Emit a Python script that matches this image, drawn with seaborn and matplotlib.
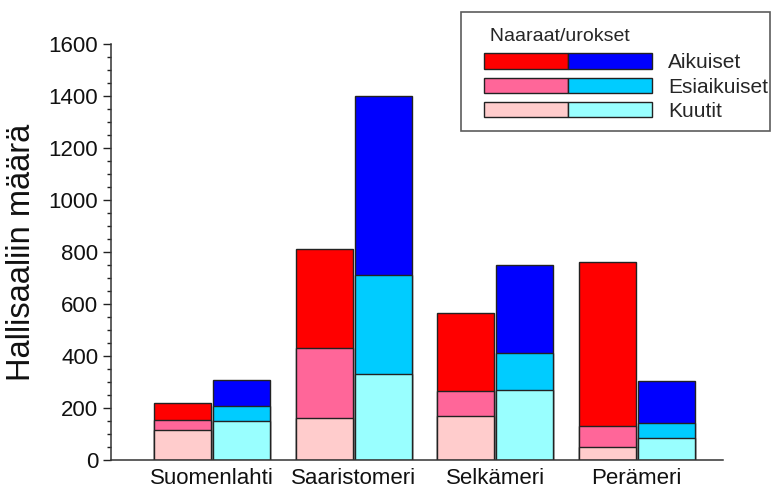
import numpy as np
import pandas as pd
import matplotlib
matplotlib.use("Agg")
import matplotlib.pyplot as plt
import seaborn as sns
from matplotlib.patches import Rectangle
from matplotlib.legend_handler import HandlerBase
from matplotlib.offsetbox import DrawingArea
from matplotlib.ticker import MultipleLocator

# ---- data ----
regions = ["Suomenlahti", "Saaristomeri", "Selkämeri", "Perämeri"]
female_pups = [116, 162, 170, 51]
female_juv = [38, 270, 97, 81]
female_adults = [64, 381, 298, 631]
male_pups = [150, 331, 270, 86]
male_juv = [58, 379, 141, 58]
male_adults = [98, 692, 338, 161]

sexes = ["Naaraat", "Urokset"]
stage_labels = ["Aikuiset", "Esiaikuiset", "Kuutit"]
female_colors = ["#FF0000", "#FF6699", "#FFCCCC"]
male_colors = ["#0000FF", "#00CCFF", "#99FFFF"]
legend_title = "Naaraat/urokset"
y_label = "Hallisaaliin määrä"

# ---- build long-form cumulative table ----
rows = []
for i, r in enumerate(regions):
    fp, fj, fa = female_pups[i], female_juv[i], female_adults[i]
    mp, mj, ma = male_pups[i], male_juv[i], male_adults[i]
    rows.append(dict(region=r, sex="Naaraat", pups=fp, juv=fp + fj, total=fp + fj + fa))
    rows.append(dict(region=r, sex="Urokset", pups=mp, juv=mp + mj, total=mp + mj + ma))
df = pd.DataFrame(rows)

sns.set_style("white")
plt.rcParams["font.family"] = ["Liberation Sans", "DejaVu Sans"]

fig = plt.figure(figsize=(7.72, 4.90), dpi=100)
ax = fig.add_axes([0.1434, 0.0612, 0.9365 - 0.1434, 0.910 - 0.0612])

edge = "#222222"
for col, k in (("total", 0), ("juv", 1), ("pups", 2)):
    sns.barplot(data=df, x="region", y=col, hue="sex", order=regions,
                hue_order=sexes, palette=[female_colors[k], male_colors[k]],
                width=0.835, gap=0.035, edgecolor=edge, linewidth=1.0,
                errorbar=None, legend=False, ax=ax, saturation=1)

ax.set_ylim(0, 1600)
ax.set_xlim(-0.716, 3.61)
ax.yaxis.set_major_locator(MultipleLocator(200))
ax.yaxis.set_minor_locator(MultipleLocator(50))
ax.tick_params(axis="y", which="major", direction="out", length=6, width=1.0,
               labelsize=16, pad=3, colors="#222222", left=True)
ax.tick_params(axis="y", which="minor", direction="out", length=3, width=1.0,
               colors="#222222", left=True)
ax.tick_params(axis="x", length=0, labelsize=16, pad=6, colors="#111111")
for lab in ax.get_yticklabels():
    lab.set_color("#111111")
ax.set_xlabel("")
ax.set_ylabel(y_label, fontsize=23.5, color="#111111")
ax.yaxis.set_label_coords(-0.120, 0.5)
for s in ("top", "right"):
    ax.spines[s].set_visible(False)
for s in ("left", "bottom"):
    ax.spines[s].set_color("#333333")
    ax.spines[s].set_linewidth(1.1)


class TwoPatch(HandlerBase):
    def __init__(self, lead, **kw):
        super().__init__(**kw)
        self.lead = lead

    def create_artists(self, legend, orig_handle, xdescent, ydescent, width,
                       height, fontsize, trans):
        c1, c2 = orig_handle
        w = (width - self.lead) / 2
        x0 = self.lead - xdescent
        r1 = Rectangle((x0, -ydescent), w, height, facecolor=c1,
                       edgecolor=edge, linewidth=1.0, transform=trans)
        r2 = Rectangle((x0 + w, -ydescent), w, height, facecolor=c2,
                       edgecolor=edge, linewidth=1.0, transform=trans)
        return [r1, r2]


handles = [(female_colors[k], male_colors[k]) for k in range(3)]
leg = fig.legend(handles, stage_labels, handler_map={tuple: TwoPatch(lead=15)},
                 loc="upper right", bbox_to_anchor=(770 / 772, 1 - 12 / 490),
                 bbox_transform=fig.transFigure, fontsize=15,
                 title="     " + legend_title, title_fontsize=14,
                 alignment="left", frameon=True, fancybox=False,
                 handlelength=9.07, handleheight=0.77, handletextpad=0.77,
                 labelspacing=0.25, borderpad=0.1, borderaxespad=0)
leg.get_frame().set_edgecolor("#333333")
leg.get_frame().set_linewidth(1.2)

# extra spacing above the title and between title and entries
lb = leg._legend_box
spacer_top = DrawingArea(1, 4.4)
spacer_bottom = DrawingArea(1, 0)
lb._children = [spacer_top] + list(lb._children) + [spacer_bottom]
lb.sep = 5.83
lb.set_figure(fig)

fig.savefig("out.png", dpi=100)
